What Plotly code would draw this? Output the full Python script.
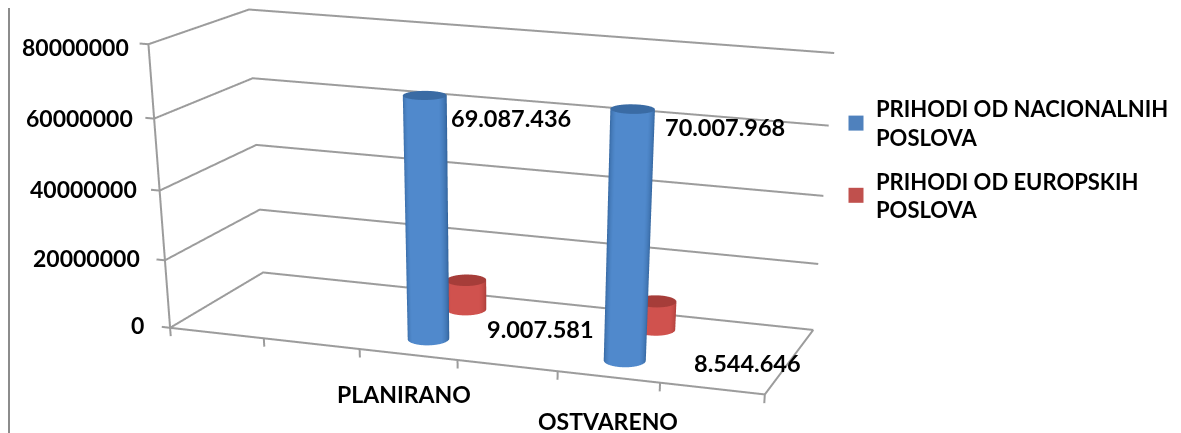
import numpy as np
import plotly.graph_objects as go

# ---- data ----
categories = ["", "", "PLANIRANO", "", "OSTVARENO", ""]
nacionalni = [None, None, 69087436, None, 70007968, None]
europski = [None, None, 9007581, None, 8544646, None]
series_names = ["PRIHODI OD NACIONALNIH<br>POSLOVA", "PRIHODI OD EUROPSKIH<br>POSLOVA"]
z_ticks = [0, 20000000, 40000000, 60000000, 80000000]

# ---- layout ----
W, H = 1173, 1800   # tall canvas narrows the fixed 45 degree view of the 3D scene
X_RANGE = (-0.12, 6.12)
Y_RANGE = (-0.05, 1.05)
Z_RANGE = (-3e6, 81e6)
EYE = (2.2089, -6.5543, 1.5571)
CENTER = (0.9226, -1.9380, -1.2948)
UP = (-0.0249, 0, 1)
ASPECT = (2.0, 0.7921, 0.8857)
GRID = "#9c9c9c"
RX, RY = 0.2, 0.1
DEPTH_NAT, DEPTH_EUR = 0.25, 0.75
TICK_POS = [(146, 325), (142, 258), (139, 189), (135, 118), (131, 47)]
CAT_POS = [(404, 394), (608, 421)]
VAL_POS = [(511, 118), (540, 329), (725, 127), (747, 363)]

fig = go.Figure()


def line(xs, ys, zs):
    fig.add_trace(go.Scatter3d(x=xs, y=ys, z=zs, mode="lines",
                               line=dict(color=GRID, width=4),
                               showlegend=False, hoverinfo="skip"))


for z in z_ticks:
    line([-0.09, 0, 0, len(categories)], [0, 0, 1, 1], [z, z, z, z])
line([0, len(categories), len(categories)], [0, 0, 1], [0, 0, 0])
line([0, 0], [0, 0], [0, z_ticks[-1]])
for i in range(len(categories) + 1):
    line([i, i], [0, 0], [0, -2.5e6])


def cylinder(cx, cy, value, edge, mid, cap):
    th = np.linspace(0, 2 * np.pi, 73)
    light = dict(ambient=1, diffuse=0, specular=0, fresnel=0)
    x = np.outer(cx + RX * np.cos(th), [1, 1])
    y = np.outer(cy + RY * np.sin(th), [1, 1])
    z = np.outer(np.ones_like(th), [0, value])
    shade = np.outer(np.abs(np.sin(th - 0.28)), [1, 1])
    fig.add_trace(go.Surface(x=x, y=y, z=z, surfacecolor=shade, cmin=0, cmax=1,
                             colorscale=[[0, edge], [0.7, mid], [1, mid]],
                             showscale=False, lighting=light, hoverinfo="skip"))
    rr = np.array([0.0, 1.0])
    x = cx + RX * np.outer(rr, np.cos(th))
    y = cy + RY * np.outer(rr, np.sin(th))
    z = np.full(x.shape, float(value))
    fig.add_trace(go.Surface(x=x, y=y, z=z, surfacecolor=np.zeros(x.shape), cmin=0, cmax=1,
                             colorscale=[[0, cap], [1, cap]],
                             showscale=False, lighting=light, hoverinfo="skip"))


for i, (a, b) in enumerate(zip(nacionalni, europski)):
    if a is not None:
        cylinder(i + 0.5, DEPTH_NAT, a, "#2f5f96", "#5089cc", "#3a6ba4")
    if b is not None:
        cylinder(i + 0.5, DEPTH_EUR, b, "#a83c38", "#d0524e", "#a63d39")

for name, color, group in zip(series_names, ["#4f81bd", "#c0504d"], ["a", "b"]):
    fig.add_trace(go.Scatter3d(x=[None], y=[None], z=[None], mode="markers", name=name,
                               legendgroup=group,
                               marker=dict(symbol="square", size=15, color=color)))


def fx(p):
    return (p - 8) / W


def fy(p):
    return 1 - (p - 8) / H


def fmt(v):
    return f"{v:,}".replace(",", ".")


FONT = dict(family="Lato", size=23, color="black", weight="bold")
FONT_VAL = dict(family="Lato", size=23.5, color="black", weight="bold")
annotations = []
for z, (px, py) in zip(z_ticks, TICK_POS):
    annotations.append(dict(x=fx(px), y=fy(py), text=str(z), xanchor="right", yanchor="middle", font=FONT))
for c, (px, py) in zip([c for c in categories if c], CAT_POS):
    annotations.append(dict(x=fx(px), y=fy(py), text=c, xanchor="center", yanchor="middle", font=FONT))
values = [nacionalni[2], europski[2], nacionalni[4], europski[4]]
for v, (px, py) in zip(values, VAL_POS):
    annotations.append(dict(x=fx(px), y=fy(py), text=fmt(v), xanchor="center", yanchor="middle", font=FONT_VAL))
for a in annotations:
    a.update(xref="paper", yref="paper", showarrow=False)

fig.update_layout(
    width=W, height=H, margin=dict(l=0, r=0, t=0, b=0), paper_bgcolor="white",
    scene=dict(
        domain=dict(x=[0, 1], y=[0, 1]), dragmode="orbit",
        xaxis=dict(visible=False, range=X_RANGE),
        yaxis=dict(visible=False, range=Y_RANGE),
        zaxis=dict(visible=False, range=Z_RANGE),
        aspectmode="manual",
        aspectratio=dict(x=ASPECT[0], y=ASPECT[1], z=ASPECT[2]),
        camera=dict(eye=dict(x=EYE[0], y=EYE[1], z=EYE[2]),
                    center=dict(x=CENTER[0], y=CENTER[1], z=CENTER[2]),
                    up=dict(x=UP[0], y=UP[1], z=UP[2]),
                    projection=dict(type="perspective")),
    ),
    annotations=annotations,
    legend=dict(x=fx(836), y=fy(88), xanchor="left", yanchor="top",
                font=dict(family="Lato", size=22, color="black", weight="bold"),
                tracegroupgap=12, bgcolor="rgba(0,0,0,0)"),
    shapes=[dict(type="line", xref="paper", yref="paper", x0=fx(9), x1=fx(9), y0=0, y1=1,
                 line=dict(color="#8c8c8c", width=2))],
)
fig.write_html("out.html")
